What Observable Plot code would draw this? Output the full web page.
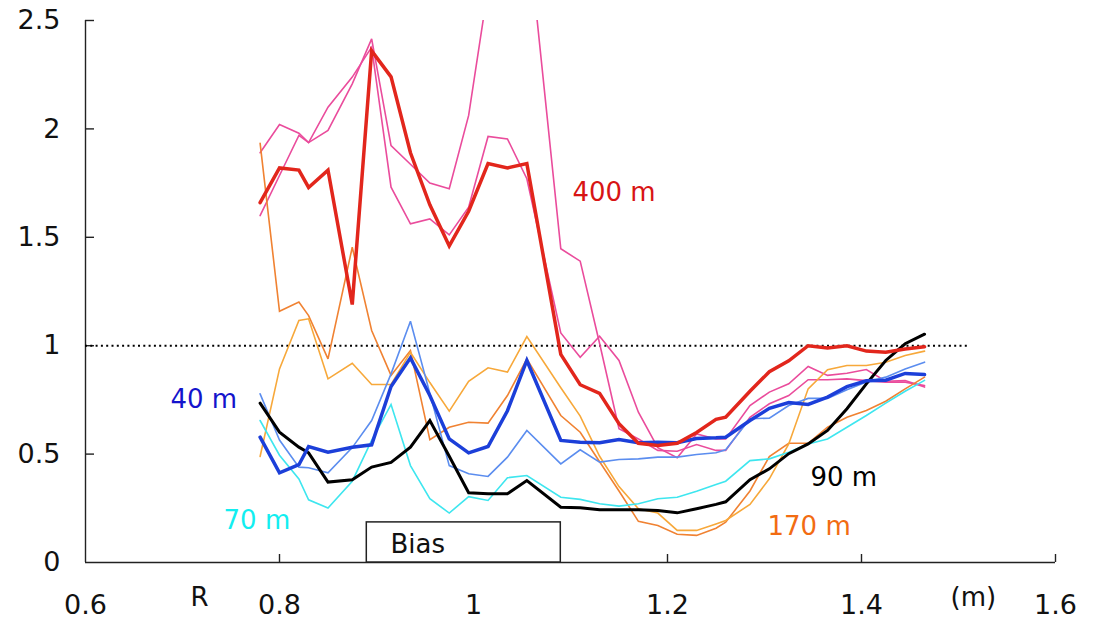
<!DOCTYPE html>
<html>
<head>
<meta charset="utf-8">
<script src="https://cdn.jsdelivr.net/npm/d3@7"></script>
<script src="https://cdn.jsdelivr.net/npm/@observablehq/plot@0.6"></script>
<style>
  html, body { margin: 0; padding: 0; background: #fff; }
  #chart { width: 1099px; height: 620px; }
</style>
</head>
<body>
<div id="chart"></div>
<script>
// Radial positions (m)
const R = [0.78, 0.80, 0.82, 0.83, 0.85, 0.875, 0.895, 0.915, 0.935, 0.955, 0.975, 0.995, 1.015, 1.035, 1.055,
           1.09, 1.11, 1.13, 1.15, 1.17, 1.19, 1.21, 1.23, 1.25, 1.26, 1.285, 1.305, 1.325, 1.345, 1.365,
           1.385, 1.405, 1.425, 1.445, 1.465];

// 400 m (thick red) and two thin pink companions
const red400 = [1.66, 1.82, 1.81, 1.73, 1.81, 1.19, 2.36, 2.24, 1.89, 1.65, 1.46, 1.62, 1.84, 1.82, 1.84,
                0.96, 0.82, 0.78, 0.64, 0.55, 0.54, 0.55, 0.60, 0.66, 0.67, 0.79, 0.88, 0.93, 1.00, 0.99,
                1.00, 0.975, 0.97, 0.985, 0.995];
const pinkA = [1.89, 2.02, 1.98, 1.937, 1.993, 2.208, 2.415, 1.923, 1.837, 1.750, 1.724, 2.062, 2.65, 2.85, 2.96,
               1.447, 1.39, 1.01, 0.617, 0.570, 0.517, 0.513, 0.544, 0.517, 0.517, 0.670, 0.732, 0.770, 0.843, 0.843,
               0.847, 0.839, 0.832, 0.832, 0.816];
const pinkB = [1.60, 1.785, 1.97, 1.937, 2.10, 2.239, 2.377, 1.731, 1.562, 1.585, 1.511, 1.639, 1.965, 1.954, 1.770,
               1.059, 0.947, 1.044, 0.932, 0.693, 0.53, 0.483, 0.593, 0.570, 0.570, 0.724, 0.786, 0.824, 0.904, 0.863,
               0.873, 0.890, 0.836, 0.839, 0.809];
// 170 m (two orange lines)
const orangeDark = [1.934, 1.159, 1.201, 1.139, 0.939, 1.454, 1.070, 0.863, 0.978, 0.566, 0.624, 0.647, 0.643, 0.770, 0.939,
                    0.678, 0.601, 0.465, 0.33, 0.19, 0.171, 0.13, 0.125, 0.158, 0.186, 0.33, 0.489, 0.550, 0.550, 0.624,
                    0.670, 0.701, 0.744, 0.801, 0.855];
const orangeLight = [0.489, 0.893, 1.116, 1.124, 0.847, 0.919, 0.821, 0.821, 0.970, 0.83, 0.698, 0.836, 0.898, 0.878, 1.042,
                     0.806, 0.675, 0.49, 0.35, 0.248, 0.228, 0.148, 0.148, 0.178, 0.194, 0.268, 0.386, 0.547, 0.801, 0.889,
                     0.909, 0.909, 0.924, 0.955, 0.975];
// 40 m (thick blue) and thin light blue
const blue40 = [0.578, 0.414, 0.451, 0.535, 0.509, 0.532, 0.543, 0.812, 0.944, 0.77, 0.570, 0.506, 0.535, 0.70, 0.932,
                0.563, 0.555, 0.552, 0.567, 0.552, 0.555, 0.552, 0.572, 0.575, 0.578, 0.655, 0.711, 0.738, 0.729, 0.763,
                0.811, 0.838, 0.841, 0.872, 0.867];
const lightBlue = [0.778, 0.565, 0.440, 0.437, 0.414, 0.53, 0.655, 0.87, 1.113, 0.78, 0.447, 0.409, 0.397, 0.486, 0.609,
                   0.455, 0.520, 0.463, 0.475, 0.478, 0.486, 0.486, 0.498, 0.506, 0.520, 0.663, 0.666, 0.724, 0.757, 0.757,
                   0.797, 0.832, 0.855, 0.893, 0.924];
// 70 m (cyan)
const cyan70 = [0.655, 0.495, 0.385, 0.289, 0.251, 0.375, 0.563, 0.729, 0.447, 0.294, 0.228, 0.304, 0.286, 0.391, 0.401,
                0.301, 0.291, 0.271, 0.260, 0.271, 0.294, 0.301, 0.329, 0.360, 0.375, 0.470, 0.478, 0.509, 0.547, 0.570,
                0.624, 0.678, 0.735, 0.790, 0.840];
// 90 m (thick black)
const black90 = [0.735, 0.601, 0.532, 0.506, 0.371, 0.382, 0.440, 0.462, 0.532, 0.655, 0.49, 0.322, 0.317, 0.317, 0.378,
                 0.255, 0.252, 0.243, 0.243, 0.243, 0.240, 0.229, 0.248, 0.268, 0.280, 0.382, 0.432, 0.502, 0.547, 0.609,
                 0.709, 0.824, 0.932, 1.009, 1.053];

// Axis ticks
const xTicks = [0.6, 0.8, 1, 1.2, 1.4, 1.6];
const yTicks = [0, 0.5, 1, 1.5, 2, 2.5];

// Annotations
const labelText = ["400 m", "40 m", "70 m", "90 m", "170 m"];
const labelX = [1.102, 0.6876, 0.7423, 1.3474, 1.3031];
const labelY = [1.708, 0.749, 0.195, 0.393, 0.163];
const labelColor = ["#d81414", "#1414cc", "#12eef0", "#000000", "#f26c12"];
const biasBox = [{x1: 0.89, x2: 1.09, y1: 0, y2: 0.185}];
const refLine = [{y: 1, x1: 0.6, x2: 1.51}];

// Series styling
const series = [
  {name: "pinkA", values: pinkA, color: "#ea4c9c", width: 1.6},
  {name: "pinkB", values: pinkB, color: "#ea4c9c", width: 1.6},
  {name: "orangeDark", values: orangeDark, color: "#f08232", width: 1.6},
  {name: "orangeLight", values: orangeLight, color: "#f7a83a", width: 1.6},
  {name: "lightBlue", values: lightBlue, color: "#5b8def", width: 1.6},
  {name: "cyan70", values: cyan70, color: "#3ee6ef", width: 1.6},
  {name: "black90", values: black90, color: "#000000", width: 3},
  {name: "blue40", values: blue40, color: "#1c3fd9", width: 3.5},
  {name: "red400", values: red400, color: "#e2261c", width: 3.5}
];

const rows = series.flatMap(s => R.map((r, i) => ({R: r, v: s.values[i], s: s.name})));

const frameW = 1099 - 85 - 44;
const frameH = 620 - 20 - 58;

const chart = Plot.plot({
  width: 1099,
  height: 620,
  marginLeft: 85,
  marginRight: 44,
  marginTop: 20,
  marginBottom: 58,
  x: {domain: [0.6, 1.6]},
  y: {domain: [0, 2.5]},
  style: {fontFamily: "'DejaVu Sans', Verdana, sans-serif", background: "#ffffff", color: "#111"},
  marks: [
    Plot.axisY(yTicks, {tickSize: 0, tickPadding: 25, fontSize: 27, tickFormat: d => String(d), fill: "#111"}),
    Plot.axisX(xTicks, {tickSize: 0, tickPadding: 32, fontSize: 27, tickFormat: d => String(d), fill: "#111"}),
    Plot.tickY(yTicks.filter(d => d > 0), {y: d => d, insetRight: frameW - 9, stroke: "#222", strokeWidth: 1.4}),
    Plot.tickX(xTicks.filter(d => d > 0.6), {x: d => d, insetTop: frameH - 8, stroke: "#222", strokeWidth: 1.4}),
    Plot.ruleX([0.6], {y1: 0, y2: 2.5, stroke: "#222", strokeWidth: 1.4}),
    Plot.ruleY([0], {x1: 0.6, x2: 1.6, stroke: "#222", strokeWidth: 1.4}),
    Plot.ruleY(refLine, {y: "y", x1: "x1", x2: "x2", stroke: "#000", strokeWidth: 2, strokeDasharray: "2,3.3"}),
    Plot.rect(biasBox, {x1: "x1", x2: "x2", y1: "y1", y2: "y2", fill: "white", stroke: "#222", strokeWidth: 1.5}),
    ...series.map(s => Plot.line(rows.filter(d => d.s === s.name), {
      x: "R", y: "v", stroke: s.color, strokeWidth: s.width, clip: true,
      strokeLinejoin: "miter", strokeMiterlimit: 3
    })),
    Plot.text(labelText, {
      x: (d, i) => labelX[i], y: (d, i) => labelY[i], text: d => d,
      fill: (d, i) => labelColor[i], textAnchor: "start", fontSize: 26
    }),
    Plot.text(["Bias"], {x: [0.9144], y: [0.080], text: d => d, textAnchor: "start", fontSize: 26, fill: "#111"}),
    Plot.text(["R"], {x: [0.7082], y: [-0.160], text: d => d, textAnchor: "start", fontSize: 26, fill: "#111"}),
    Plot.text(["(m)"], {x: [1.4918], y: [-0.160], text: d => d, textAnchor: "start", fontSize: 26, fill: "#111"})
  ]
});

document.getElementById("chart").appendChild(chart);
</script>
</body>
</html>
